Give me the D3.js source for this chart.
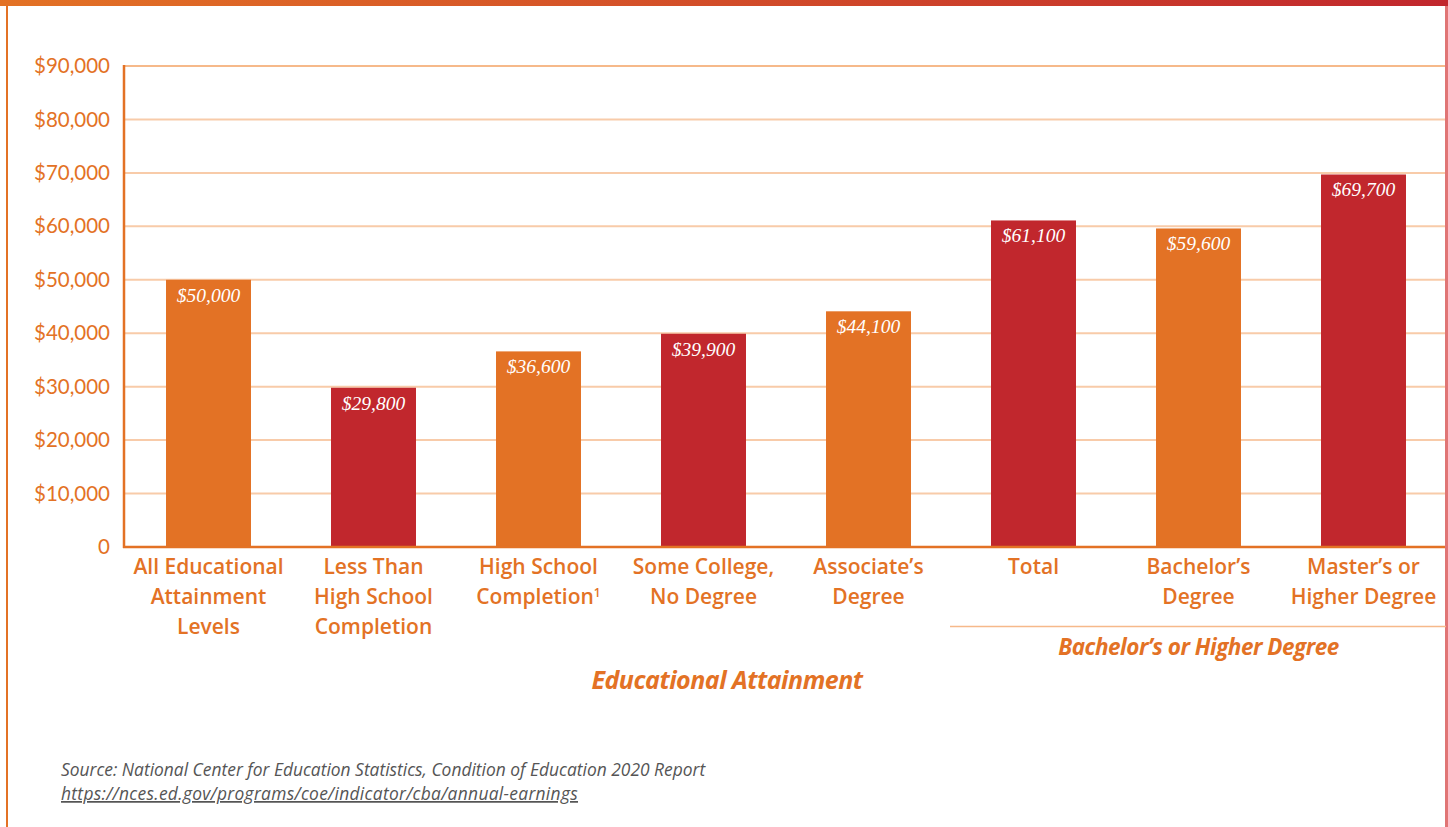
<!DOCTYPE html>
<html>
<head>
<meta charset="utf-8">
<script src="https://cdn.jsdelivr.net/npm/d3@7"></script>
<style>
  html, body { margin: 0; padding: 0; background: #fff; }
  #chart { width: 1448px; height: 827px; }
</style>
</head>
<body>
<div id="chart"></div>
<script>
// Median annual earnings by educational attainment
const categories = [
  ["All Educational", "Attainment", "Levels"],
  ["Less Than", "High School", "Completion"],
  ["High School", "Completion¹"],
  ["Some College,", "No Degree"],
  ["Associate’s", "Degree"],
  ["Total"],
  ["Bachelor’s", "Degree"],
  ["Master’s or", "Higher Degree"]
];
const earnings = [50000, 29800, 36600, 39900, 44100, 61100, 59600, 69700];
const barColors = ["orange", "red", "orange", "red", "orange", "red", "orange", "red"];
const yTicks = [0, 10000, 20000, 30000, 40000, 50000, 60000, 70000, 80000, 90000];

const ORANGE = "#e37225", RED = "#c1272d";
const W = 1448, H = 827;
const M = {t: 66, r: 2, b: 280, l: 124};

const svg = d3.select("#chart").append("svg").attr("width", W).attr("height", H);

// frame
const grad = svg.append("defs").append("linearGradient").attr("id", "topbar");
grad.append("stop").attr("offset", "0%").attr("stop-color", ORANGE);
grad.append("stop").attr("offset", "100%").attr("stop-color", RED);
svg.append("rect").attr("x", 0).attr("y", 0).attr("width", W).attr("height", 6).attr("fill", "url(#topbar)");
svg.append("line").attr("x1", 7).attr("x2", 7).attr("y1", 6).attr("y2", H).attr("stroke", ORANGE).attr("stroke-width", 2);
svg.append("line").attr("x1", 1446.5).attr("x2", 1446.5).attr("y1", 6).attr("y2", H).attr("stroke", "#e07575").attr("stroke-width", 3);

const x = d3.scaleBand()
  .domain(d3.range(categories.length))
  .range([126, 1446])
  .paddingInner(0.485)
  .paddingOuter(0.2425);

const y = d3.scaleLinear().domain([0, 90000]).range([547, 66]);

// gridlines
svg.append("g")
  .selectAll("line")
  .data(yTicks.filter(d => d > 0))
  .enter().append("line")
  .attr("x1", M.l).attr("x2", 1445)
  .attr("y1", d => y(d)).attr("y2", d => y(d))
  .attr("stroke", d => d === 90000 ? "#f6b98a" : "#f8cba9")
  .attr("stroke-width", 2);

// y axis labels
const yAxis = svg.append("g")
  .attr("transform", `translate(${M.l}, 0)`)
  .call(d3.axisLeft(y).tickValues(yTicks).tickSize(0).tickPadding(14)
    .tickFormat(d => d === 0 ? "0" : "$" + d3.format(",")(d)));
yAxis.select(".domain").remove();
yAxis.selectAll("text")
  .attr("font-family", "Lato, sans-serif")
  .attr("font-size", "20.5px")
  .attr("fill", ORANGE);

// bars
svg.append("g")
  .selectAll("rect")
  .data(earnings)
  .enter().append("rect")
  .attr("x", (d, i) => x(i))
  .attr("y", d => y(d))
  .attr("width", x.bandwidth())
  .attr("height", d => y(0) - y(d))
  .attr("fill", (d, i) => barColors[i] === "red" ? RED : ORANGE);

// value labels
svg.append("g")
  .selectAll("text")
  .data(earnings)
  .enter().append("text")
  .attr("x", (d, i) => x(i) + x.bandwidth() / 2)
  .attr("y", d => y(d) + 22)
  .attr("text-anchor", "middle")
  .attr("font-family", "'Liberation Serif', serif")
  .attr("font-style", "italic")
  .attr("font-size", "19.5px")
  .attr("fill", "#fff")
  .text(d => "$" + d3.format(",")(d));

// axis lines
svg.append("line").attr("x1", M.l).attr("x2", M.l).attr("y1", 65).attr("y2", 548)
  .attr("stroke", ORANGE).attr("stroke-width", 2.5);
svg.append("line").attr("x1", M.l - 1).attr("x2", 1445).attr("y1", 547).attr("y2", 547)
  .attr("stroke", ORANGE).attr("stroke-width", 2.5);

// category labels
const catG = svg.append("g")
  .selectAll("text")
  .data(categories)
  .enter().append("text")
  .attr("x", (d, i) => x(i) + x.bandwidth() / 2)
  .attr("y", 574)
  .attr("text-anchor", "middle")
  .attr("font-family", "'Open Sans', sans-serif")
  .attr("font-weight", 600)
  .attr("font-size", "21px")
  .attr("fill", ORANGE);
catG.each(function(lines) {
  const t = d3.select(this);
  lines.forEach((line, j) => {
    const span = t.append("tspan")
      .attr("x", t.attr("x"))
      .attr("dy", j === 0 ? 0 : 30);
    if (line.endsWith("¹")) {
      span.text(line.slice(0, -1));
      t.append("tspan").attr("font-size", "12px").attr("dy", -7).text("1");
    } else {
      span.text(line);
    }
  });
});

// group bracket for bachelor's or higher
svg.append("line").attr("x1", 950).attr("x2", 1446).attr("y1", 626.5).attr("y2", 626.5)
  .attr("stroke", "#f6b98a").attr("stroke-width", 1.5);
svg.append("text")
  .attr("x", (x(5) + x(7) + x.bandwidth()) / 2)
  .attr("y", 655)
  .attr("text-anchor", "middle")
  .attr("font-family", "'Open Sans', sans-serif")
  .attr("font-weight", 700)
  .attr("font-style", "italic")
  .attr("font-size", "22.5px")
  .attr("letter-spacing", "-0.5px")
  .attr("fill", ORANGE)
  .text("Bachelor’s or Higher Degree");

// axis title
svg.append("text")
  .attr("x", 727)
  .attr("y", 689)
  .attr("text-anchor", "middle")
  .attr("font-family", "'Open Sans', sans-serif")
  .attr("font-weight", 700)
  .attr("font-style", "italic")
  .attr("font-size", "25px")
  .attr("letter-spacing", "-0.5px")
  .attr("fill", ORANGE)
  .text("Educational Attainment");

// source
svg.append("text")
  .attr("x", 61).attr("y", 776)
  .attr("font-family", "'Open Sans', sans-serif")
  .attr("font-style", "italic")
  .attr("font-size", "17.4px")
  .attr("fill", "#555")
  .text("Source: National Center for Education Statistics, Condition of Education 2020 Report");
svg.append("text")
  .attr("x", 61).attr("y", 800)
  .attr("font-family", "'Open Sans', sans-serif")
  .attr("font-style", "italic")
  .attr("font-size", "17.4px")
  .attr("letter-spacing", "0.3px")
  .attr("text-decoration", "underline")
  .attr("fill", "#555")
  .text("https://nces.ed.gov/programs/coe/indicator/cba/annual-earnings");
</script>
</body>
</html>
